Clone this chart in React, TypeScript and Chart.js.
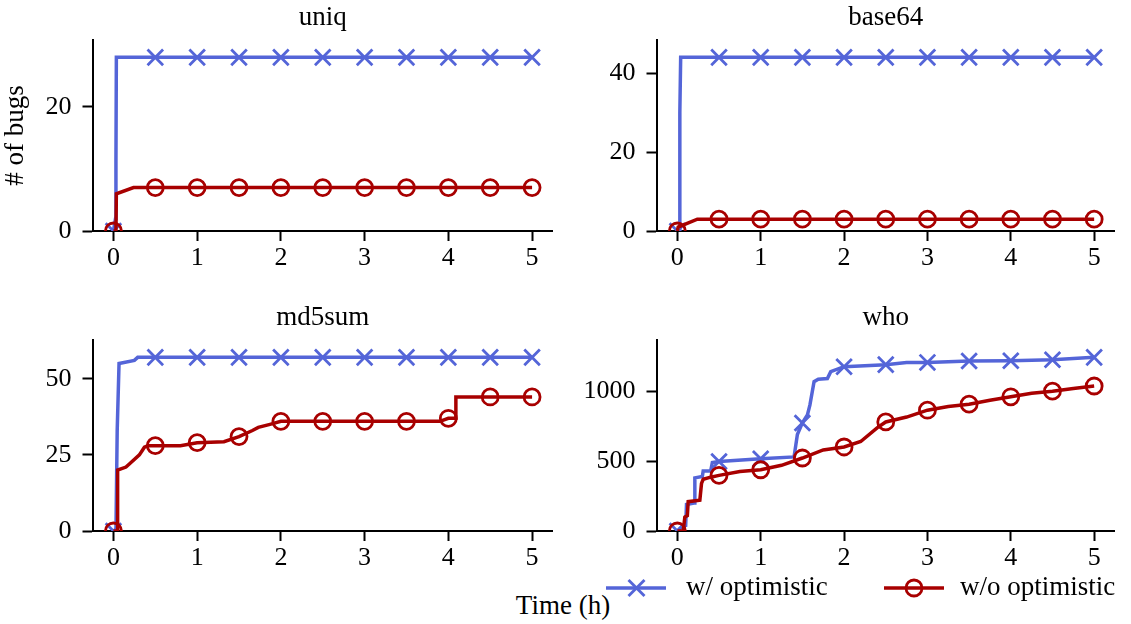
import React, { useEffect, useRef } from "react";
import { Chart, registerables } from "chart.js";

Chart.register(...registerables);

const FONT = "'Liberation Serif', 'Times New Roman', Times, serif";
const BLUE = "#5465d8";
const RED = "#a80000";

const seriesNames = ["w/ optimistic", "w/o optimistic"];
const panelTitles = ["uniq", "base64", "md5sum", "who"];
const xTickValues = [0, 1, 2, 3, 4, 5];
const xAxisLabel = "Time (h)";
const yAxisLabel = "# of bugs";

// uniq
const uniqOptT = [0, 0.025, 0.03, 0.035, 0.5, 1, 1.5, 2, 2.5, 3, 3.5, 4, 4.5, 5];
const uniqOptY = [0, 2, 11, 28, 28, 28, 28, 28, 28, 28, 28, 28, 28, 28];
const uniqNoOptT = [0, 0.03, 0.035, 0.24, 0.5, 1, 1.5, 2, 2.5, 3, 3.5, 4, 4.5, 5];
const uniqNoOptY = [0, 0, 6, 7, 7, 7, 7, 7, 7, 7, 7, 7, 7, 7];
const uniqYTicks = [0, 20];

// base64
const b64OptT = [0, 0.025, 0.03, 0.04, 0.5, 1, 1.5, 2, 2.5, 3, 3.5, 4, 4.5, 5];
const b64OptY = [0, 0, 30, 44, 44, 44, 44, 44, 44, 44, 44, 44, 44, 44];
const b64NoOptT = [0, 0.01, 0.24, 0.5, 1, 1.5, 2, 2.5, 3, 3.5, 4, 4.5, 5];
const b64NoOptY = [0, 1, 3, 3, 3, 3, 3, 3, 3, 3, 3, 3, 3];
const b64YTicks = [0, 20, 40];

// md5sum
const md5OptT = [0, 0.03, 0.045, 0.067, 0.25, 0.29, 0.5, 1, 1.5, 2, 2.5, 3, 3.5, 4, 4.5, 5];
const md5OptY = [0, 0, 33, 55, 56, 57, 57, 57, 57, 57, 57, 57, 57, 57, 57, 57];
const md5NoOptT = [0, 0.045, 0.05, 0.15, 0.19, 0.31, 0.37, 0.41, 0.5, 0.8, 1, 1.32, 1.5, 1.66, 1.73, 1.87, 2, 2.5, 3, 3.5, 3.9, 4, 4.08, 4.09, 4.5, 5];
const md5NoOptY = [0, 0, 20, 21, 22, 25, 27.5, 28, 28, 28, 29, 29.3, 31, 33, 34, 35, 36, 36, 36, 36, 36, 37, 37, 44, 44, 44];
const md5YTicks = [0, 25, 50];

// who
const whoOptT = [0, 0.05, 0.1, 0.11, 0.2, 0.21, 0.3, 0.31, 0.4, 0.42, 0.5, 1, 1.4, 1.44, 1.5, 1.56, 1.59, 1.64, 1.69, 1.8, 1.84, 2, 2.5, 2.75, 3, 3.5, 4, 4.5, 5];
const whoOptY = [0, 30, 40, 190, 200, 380, 390, 430, 430, 490, 497, 517, 530, 690, 773, 830, 900, 1068, 1085, 1090, 1140, 1175, 1190, 1205, 1206, 1216, 1218, 1225, 1242];
const whoNoOptT = [0, 0.07, 0.09, 0.12, 0.13, 0.27, 0.29, 0.31, 0.4, 0.5, 0.75, 1, 1.25, 1.5, 1.75, 2, 2.2, 2.4, 2.5, 2.75, 3, 3.25, 3.5, 3.75, 4, 4.25, 4.5, 4.75, 5];
const whoNoOptY = [0, 0, 100, 110, 210, 220, 340, 370, 385, 398, 425, 438, 470, 522, 580, 601, 640, 740, 780, 815, 864, 890, 907, 935, 960, 985, 1000, 1020, 1037];
const whoYTicks = [0, 500, 1000];

type PanelDef = {
  title: string;
  optT: number[];
  optY: number[];
  noT: number[];
  noY: number[];
  yTicks: number[];
  left: number;
  top: number;
  width: number;
  yTitle?: string;
};

const panels: PanelDef[] = [
  { title: panelTitles[0], optT: uniqOptT, optY: uniqOptY, noT: uniqNoOptT, noY: uniqNoOptY, yTicks: uniqYTicks, left: 0, top: 0, width: 553, yTitle: yAxisLabel },
  { title: panelTitles[1], optT: b64OptT, optY: b64OptY, noT: b64NoOptT, noY: b64NoOptY, yTicks: b64YTicks, left: 564, top: 0, width: 551 },
  { title: panelTitles[2], optT: md5OptT, optY: md5OptY, noT: md5NoOptT, noY: md5NoOptY, yTicks: md5YTicks, left: 0, top: 300, width: 553 },
  { title: panelTitles[3], optT: whoOptT, optY: whoOptY, noT: whoNoOptT, noY: whoNoOptY, yTicks: whoYTicks, left: 564, top: 300, width: 551 },
];

const PANEL_H = 271;

const zip = (t: number[], y: number[]) => t.map((x, i) => ({ x, y: y[i] }));

const isMark = (ctx: any) => {
  const x = ctx && ctx.raw ? ctx.raw.x : undefined;
  if (typeof x !== "number") return false;
  return Math.abs(x * 2 - Math.round(x * 2)) < 1e-9;
};

function Panel({ p }: { p: PanelDef }) {
  const ref = useRef<HTMLCanvasElement>(null);
  useEffect(() => {
    const yMax = Math.max(...p.optY, ...p.noY) * 1.1;
    const titlePlugin = {
      id: "panelTitle",
      afterDraw(chart: any) {
        const { ctx, chartArea } = chart;
        ctx.save();
        ctx.font = `27px ${FONT}`;
        ctx.fillStyle = "#000";
        ctx.textAlign = "center";
        ctx.textBaseline = "alphabetic";
        ctx.fillText(p.title, (chartArea.left + chartArea.right) / 2, 25);
        ctx.restore();
      },
    };
    const tickFont = { family: FONT, size: 26, weight: "normal" as const };
    const chart = new Chart(ref.current!, {
      type: "line",
      data: {
        datasets: [
          {
            label: seriesNames[0],
            data: zip(p.optT, p.optY),
            borderColor: BLUE,
            backgroundColor: BLUE,
            borderWidth: 3.5,
            pointStyle: "crossRot",
            pointRadius: (ctx: any) => (isMark(ctx) ? 11 : 0),
            pointBorderColor: BLUE,
            pointBackgroundColor: BLUE,
            pointBorderWidth: 2.8,
            tension: 0,
            clip: 0,
            order: 1,
          } as any,
          {
            label: seriesNames[1],
            data: zip(p.noT, p.noY),
            borderColor: RED,
            backgroundColor: RED,
            borderWidth: 3.5,
            pointStyle: "circle",
            pointRadius: (ctx: any) => (isMark(ctx) ? 8 : 0),
            pointBorderColor: RED,
            pointBackgroundColor: "rgba(0,0,0,0)",
            pointBorderWidth: 2.8,
            tension: 0,
            clip: 0,
            order: 0,
          } as any,
        ],
      },
      options: {
        animation: false,
        responsive: false,
        events: [],
        layout: { autoPadding: false, padding: { top: 40, left: 0, right: 0, bottom: 0 } },
        plugins: {
          legend: { display: false },
          tooltip: { enabled: false },
          title: { display: false },
        },
        scales: {
          x: {
            type: "linear",
            min: -0.25,
            max: 5.25,
            z: 1,
            afterBuildTicks: (s: any) => {
              s.ticks = xTickValues.map((v) => ({ value: v }));
            },
            afterFit: (s: any) => {
              s.height = 40;
              s.paddingLeft = 0;
              s.paddingRight = 0;
            },
            ticks: {
              color: "#000",
              font: tickFont,
              padding: 2,
              autoSkip: false,
              maxRotation: 0,
              callback: (v: any) => String(v),
            },
            grid: {
              drawOnChartArea: false,
              drawTicks: true,
              tickLength: 10,
              tickWidth: 2,
              tickColor: "#000",
            },
            border: { display: true, color: "#000", width: 2 },
          },
          y: {
            type: "linear",
            min: 0,
            max: yMax,
            z: 1,
            afterBuildTicks: (s: any) => {
              s.ticks = p.yTicks.map((v) => ({ value: v }));
            },
            afterFit: (s: any) => {
              s.width = 92.5;
              s.paddingTop = 0;
              s.paddingBottom = 0;
            },
            ticks: {
              color: "#000",
              font: tickFont,
              padding: 11,
              autoSkip: false,
              callback: (v: any) => String(v),
            },
            grid: {
              drawOnChartArea: false,
              drawTicks: true,
              tickLength: 10,
              tickWidth: 2,
              tickColor: "#000",
            },
            border: { display: true, color: "#000", width: 2 },
            title: p.yTitle
              ? {
                  display: true,
                  text: p.yTitle,
                  color: "#000",
                  font: { family: FONT, size: 27, weight: "normal" },
                  padding: { top: 0, bottom: 0 },
                }
              : { display: false },
          },
        },
      },
      plugins: [titlePlugin],
    } as any);
    return () => chart.destroy();
  }, [p]);
  return (
    <canvas
      ref={ref}
      width={p.width}
      height={PANEL_H}
      style={{ position: "absolute", left: p.left, top: p.top, width: p.width, height: PANEL_H }}
    />
  );
}

export default function App() {
  const textStyle: React.CSSProperties = {
    position: "absolute",
    fontFamily: FONT,
    fontSize: 27,
    lineHeight: "32px",
    color: "#000",
    whiteSpace: "nowrap",
  };
  return (
    <div
      style={{
        position: "fixed",
        left: 0,
        top: 0,
        width: 1131,
        height: 624,
        background: "#fff",
        overflow: "hidden",
      }}
    >
      {panels.map((p) => (
        <Panel key={p.title} p={p} />
      ))}
      <div style={{ ...textStyle, left: 463, top: 589, width: 200, textAlign: "center" }}>{xAxisLabel}</div>
      <svg style={{ position: "absolute", left: 606, top: 576 }} width={60} height={24}>
        <line x1={0} y1={12} x2={60} y2={12} stroke={BLUE} strokeWidth={3.5} />
        <line x1={22.5} y1={4} x2={38.5} y2={20} stroke={BLUE} strokeWidth={2.8} />
        <line x1={22.5} y1={20} x2={38.5} y2={4} stroke={BLUE} strokeWidth={2.8} />
      </svg>
      <div style={{ ...textStyle, left: 686, top: 570 }}>{seriesNames[0]}</div>
      <svg style={{ position: "absolute", left: 884, top: 576 }} width={60} height={24}>
        <line x1={0} y1={12} x2={60} y2={12} stroke={RED} strokeWidth={3.5} />
        <circle cx={30} cy={12} r={8} fill="none" stroke={RED} strokeWidth={2.8} />
      </svg>
      <div style={{ ...textStyle, left: 960, top: 570 }}>{seriesNames[1]}</div>
    </div>
  );
}
